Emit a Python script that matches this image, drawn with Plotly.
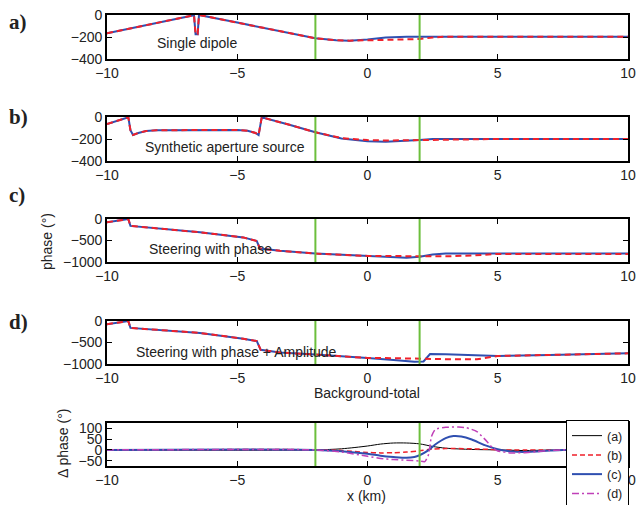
import plotly.graph_objects as go

# ---------------- data ----------------
# Panel a) Single dipole
a_x_blue = [-10, -6.75, -6.66, -6.6, -6.52, -6.47, -6.42, -5, -3, -2, -1.2, -0.7, 0, 0.7, 1.5, 2, 10]
a_y_blue = [-166, -2, -2, -175, -175, -2, -2, -69, -164, -212, -230, -233, -222, -205, -198, -197, -197]
a_x_red = [-10, -6.75, -6.66, -6.6, -6.52, -6.47, -6.42, -5, -3, -2, -1.2, -0.7, 0, 0.7, 1.5, 2, 2.5, 3, 10]
a_y_red = [-166, -2, -2, -175, -175, -2, -2, -69, -164, -212, -230, -233, -230, -227, -222, -218, -205, -197, -197]

# Panel b) Synthetic aperture source
b_x_blue = [-10, -9.18, -9.1, -9.0, -8.8, -8.5, -8.1, -5.0, -4.6, -4.3, -4.18, -4.06, -3, -2, -1, 0, 0.7, 1.5, 2, 2.5, 10]
b_y_blue = [-64, -3, -120, -164, -145, -128, -120, -118, -125, -145, -164, -3, -70, -139, -195, -220, -224, -218, -209, -200, -200]
b_x_red = [-10, -9.18, -9.1, -9.0, -8.8, -8.5, -8.1, -5.0, -4.6, -4.3, -4.18, -4.06, -3, -2, -1, 0, 0.7, 1.5, 2, 3, 4, 5, 10]
b_y_red = [-64, -3, -120, -164, -145, -128, -120, -118, -125, -145, -164, -3, -70, -139, -192, -210, -214, -212, -210, -208, -204, -200, -200]

# Panel c) Steering with phase
c_x_blue = [-10, -9.18, -9.1, -6.43, -4.77, -4.25, -4.13, -3.36, -2, -1, 0, 1, 1.5, 2, 2.5, 3, 10]
c_y_blue = [-75, -3, -160, -310, -428, -512, -687, -741, -805, -835, -862, -895, -900, -880, -825, -805, -805]
c_x_red = [-10, -9.18, -9.1, -6.43, -4.77, -4.25, -4.13, -3.36, -2, -1, 0, 1, 2, 3, 4, 5, 10]
c_y_red = [-75, -3, -160, -310, -428, -512, -687, -741, -805, -835, -859, -862, -866, -868, -850, -812, -812]

# Panel d) Steering with phase + Amplitude
d_x_blue = [-10, -9.18, -9.1, -6.43, -4.77, -4.25, -4.1, -3.36, -2, -1, 0, 1, 1.8, 2.15, 2.4, 3, 4, 5, 7, 10]
d_y_blue = [-75, -3, -160, -278, -412, -466, -670, -734, -781, -815, -859, -905, -946, -940, -767, -775, -795, -814, -790, -752]
d_x_red = [-10, -9.18, -9.1, -6.43, -4.77, -4.25, -4.1, -3.36, -2, -1, 0, 1, 1.8, 2.2, 3, 4.2, 5, 7, 10]
d_y_red = [-75, -3, -160, -278, -412, -466, -670, -734, -781, -815, -859, -864, -866, -880, -888, -890, -814, -790, -752]

# Bottom panel: Delta phase for cases (a)-(d)
e_x_a = [-10, -2, -1, 0, 0.5, 1, 1.5, 2, 2.5, 3, 4, 5, 6, 7, 10]
e_y_a = [0, 0, 5, 18, 27, 32, 32, 28, 16, 8, 2, 0, -3, -1, 0]
e_x_b = [-10, -1.5, -1, 0, 0.5, 1, 1.5, 2, 2.5, 3, 4, 4.7, 5, 10]
e_y_b = [0, 0, -3, -12, -14, -13, -10, -4, 4, 6, 5, 2, 0, 0]
e_x_c = [-10, -2, -1, 0, 0.5, 1, 1.5, 1.8, 2, 2.3, 2.6, 3, 3.3, 3.6, 4, 4.5, 5, 5.5, 6, 6.5, 7, 7.5, 10]
e_y_c = [0, 0, -6, -18, -27, -33, -37, -33, -25, -5, 25, 55, 64, 62, 48, 22, 3, -7, -10, -7, -3, 0, 0]
e_x_d = [-10, -2, -1, 0, 0.5, 1, 1.5, 2, 2.2, 2.35, 2.45, 2.6, 3, 3.5, 3.8, 4.2, 4.5, 4.8, 5, 5.5, 6, 6.5, 7, 7.5, 10]
e_y_d = [0, 0, -10, -30, -40, -45, -48, -52, -55, -20, 60, 95, 105, 106, 103, 85, 50, 10, -5, -14, -13, -8, -3, 0, 0]

boundaries = [-2, 2]
x_ticks = [-10, -5, 0, 5, 10]
panel_labels = ["a)", "b)", "c)", "d)"]
panel_titles = ["Single dipole", "Synthetic aperture source", "Steering with phase",
                "Steering with phase + Amplitude"]
legend_names = ["(a)", "(b)", "(c)", "(d)"]

# ---------------- styling ----------------
W, H = 638, 505
BLUE = "#2F4FB0"
RED = "#F0202A"
MAG = "#C040B8"
GREEN = "#6CBF3C"
FONT = "Liberation Sans"
TXT = "#222"


def py(p):
    return 1 - p / H


def px(p):
    return p / W


x_dom = [px(107), px(628)]
y_doms = [(15, 59), (117, 161), (219, 262), (321, 364), (423, 466)]
y_ranges = [[-400, 0], [-400, 0], [-1000, 0], [-1000, 0], [-75, 125]]
y_ticks = [[-400, -200, 0], [-400, -200, 0], [-1000, -500, 0], [-1000, -500, 0], [-50, 0, 50, 100]]

fig = go.Figure()

panels = [
    (a_x_blue, a_y_blue, a_x_red, a_y_red),
    (b_x_blue, b_y_blue, b_x_red, b_y_red),
    (c_x_blue, c_y_blue, c_x_red, c_y_red),
    (d_x_blue, d_y_blue, d_x_red, d_y_red),
]

for i, (xb, yb, xr, yr) in enumerate(panels):
    n = "" if i == 0 else str(i + 1)
    fig.add_trace(go.Scatter(x=xb, y=yb, mode="lines", line=dict(color=BLUE, width=2),
                             xaxis="x" + n, yaxis="y" + n, showlegend=False, hoverinfo="skip"))
    fig.add_trace(go.Scatter(x=xr, y=yr, mode="lines", line=dict(color=RED, width=2, dash="6px,4px"),
                             xaxis="x" + n, yaxis="y" + n, showlegend=False, hoverinfo="skip"))

fig.add_trace(go.Scatter(x=e_x_a, y=e_y_a, mode="lines", name=legend_names[0],
                         line=dict(color="black", width=1, shape="spline", smoothing=0.8),
                         xaxis="x5", yaxis="y5", hoverinfo="skip"))
fig.add_trace(go.Scatter(x=e_x_b, y=e_y_b, mode="lines", name=legend_names[1],
                         line=dict(color=RED, width=1.5, dash="5px,3px", shape="spline", smoothing=0.8),
                         xaxis="x5", yaxis="y5", hoverinfo="skip"))
fig.add_trace(go.Scatter(x=e_x_c, y=e_y_c, mode="lines", name=legend_names[2],
                         line=dict(color=BLUE, width=2, shape="spline", smoothing=0.8),
                         xaxis="x5", yaxis="y5", hoverinfo="skip"))
fig.add_trace(go.Scatter(x=e_x_d, y=e_y_d, mode="lines", name=legend_names[3],
                         line=dict(color=MAG, width=1.5, dash="7px,3px,2px,3px", shape="spline", smoothing=0.5),
                         xaxis="x5", yaxis="y5", hoverinfo="skip"))

axis_style = dict(showline=True, linecolor="black", linewidth=1.8, mirror="allticks",
                  ticks="inside", ticklen=5, tickwidth=1, tickcolor="black",
                  showgrid=False, zeroline=False, automargin=False,
                  tickfont=dict(family=FONT, size=14, color=TXT))

layout = dict(width=W, height=H, margin=dict(l=0, r=0, t=0, b=0, autoexpand=False),
              paper_bgcolor="white", plot_bgcolor="white", hovermode=False)

for i in range(5):
    n = "" if i == 0 else str(i + 1)
    t, b = y_doms[i]
    layout["xaxis" + n] = dict(axis_style, domain=x_dom, range=[-10, 10], tickvals=x_ticks,
                               anchor="y" + n)
    layout["yaxis" + n] = dict(axis_style, domain=[py(b), py(t)], range=y_ranges[i],
                               tickvals=y_ticks[i], anchor="x" + n)

layout["legend"] = dict(x=px(566), y=py(420), xanchor="left", yanchor="top",
                        bgcolor="white", bordercolor="black", borderwidth=1,
                        font=dict(family=FONT, size=12.5, color=TXT),
                        itemwidth=30, tracegroupgap=0)

fig.update_layout(**layout)

# green boundary lines
for i in range(5):
    n = "" if i == 0 else str(i + 1)
    for xb in boundaries:
        fig.add_shape(type="line", x0=xb, x1=xb, y0=0, y1=1, xref="x" + n, yref="y" + n + " domain",
                      line=dict(color=GREEN, width=2), layer="above")

# panel labels and in-panel titles
label_y = [22, 117, 195, 322]
title_pos = [(197, 43), (225, 147), (210, 249), (236, 352)]
for i in range(4):
    fig.add_annotation(text="<b>" + panel_labels[i] + "</b>", x=px(7), y=py(label_y[i]),
                       xref="paper", yref="paper", xanchor="left", yanchor="middle", showarrow=False,
                       font=dict(family="Liberation Serif", size=21, color=TXT))
    fig.add_annotation(text=panel_titles[i], x=px(title_pos[i][0]), y=py(title_pos[i][1]),
                       xref="paper", yref="paper", xanchor="center", yanchor="middle", showarrow=False,
                       font=dict(family=FONT, size=14, color=TXT))

# axis titles
axis_titles = [("Background-total", 367, 393, 0), ("x (km)", 367, 496, 0),
               ("phase (°)", 47, 242, -90), ("Δ phase (°)", 63, 444, -90)]
for text, ax_, ay_, ang in axis_titles:
    fig.add_annotation(text=text, x=px(ax_), y=py(ay_), xref="paper", yref="paper",
                       xanchor="center", yanchor="middle", showarrow=False, textangle=ang,
                       font=dict(family=FONT, size=14, color=TXT))

fig.write_html("out.html", config={"displayModeBar": False},
               post_script="document.body.style.margin='0px';")
